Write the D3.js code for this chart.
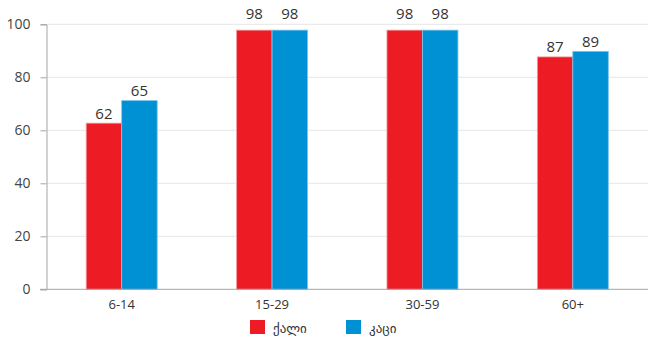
<!DOCTYPE html>
<html><head><meta charset="utf-8">
<script src="https://cdn.jsdelivr.net/npm/d3@7"></script>
<style>body{margin:0;background:#fff}svg{display:block}text{font-family:"Open Sans","DejaVu Sans",sans-serif}</style>
</head><body>
<svg id="c" width="651" height="337"></svg>
<script>
const categories = ["6-14", "15-29", "30-59", "60+"];
const seriesNames = ["ქალი", "კაცი"];
const femaleValues = [62.7, 97.8, 97.8, 87.7];
const maleValues = [71.2, 97.8, 97.8, 89.8];
const femaleLabels = ["62", "98", "98", "87"];
const maleLabels = ["65", "98", "98", "89"];
const yTicks = [0, 20, 40, 60, 80, 100];
const colors = ["#ED1C24", "#0091D5"];
const strokes = ["#f5a0a4", "#7cc4ea"];

const svg = d3.select("#c");
const margin = {left: 46.5, right: 3};
const W = 651;
const x = d3.scaleBand().domain(categories).range([margin.left, W - margin.right]).paddingInner(0).paddingOuter(0);
const y = d3.scaleLinear().domain([0, 100]).range([289.3, 24.3]);
const groupW = 71;
const xs = d3.scaleBand().domain([0, 1]).range([0, groupW]);

// grid
svg.append("g").selectAll("line").data(yTicks.filter(t => t > 0)).join("line")
  .attr("x1", margin.left).attr("x2", W - margin.right)
  .attr("y1", d => y(d)).attr("y2", d => y(d))
  .attr("stroke", "#e6e6e6").attr("stroke-width", 1);

// y axis
const yAxis = d3.axisLeft(y).tickValues(yTicks).tickSize(6).tickPadding(10);
const gy = svg.append("g").attr("transform", `translate(${margin.left},0)`).call(yAxis);
gy.select(".domain").attr("stroke", "#a6a6a6");
gy.selectAll(".tick line").attr("stroke", "#a6a6a6");
gy.selectAll("text").attr("font-size", 14).attr("fill", "#444")
  .attr("font-family", "'Open Sans',sans-serif");

// bars
const series = [femaleValues, maleValues];
const labels = [femaleLabels, maleLabels];
const topY = y(d3.max(yTicks));
function labelY(v) {
  const b = y(v) - 4.5;
  return (b - 12 < topY) ? topY - 5 : b;
}
series.forEach((vals, si) => {
  const g = svg.append("g");
  g.selectAll("rect").data(vals).join("rect")
    .attr("x", (d, i) => x(categories[i]) + x.bandwidth() / 2 - groupW / 2 + xs(si))
    .attr("y", d => y(d))
    .attr("width", xs.bandwidth())
    .attr("height", d => y(0) - y(d))
    .attr("fill", colors[si])
    .attr("stroke", strokes[si]).attr("stroke-width", 0.8);
  g.selectAll("text").data(vals).join("text")
    .attr("x", (d, i) => x(categories[i]) + x.bandwidth() / 2 - groupW / 2 + xs(si) + xs.bandwidth() / 2)
    .attr("y", d => labelY(d))
    .attr("text-anchor", "middle")
    .attr("font-size", 15).attr("fill", "#333")
    .text((d, i) => labels[si][i]);
});

// x axis
const xAxis = d3.axisBottom(x).tickSize(0).tickPadding(10);
const gx = svg.append("g").attr("transform", `translate(0,${y(0)})`).call(xAxis);
gx.select(".domain").remove();
gx.selectAll("text").attr("font-size", 13).attr("fill", "#333")
  .attr("font-family", "'Open Sans',sans-serif");
svg.append("line").attr("x1", 40).attr("x2", W - margin.right)
  .attr("y1", y(0)).attr("y2", y(0)).attr("stroke", "#a6a6a6");

// legend
const legendX = [250, 346];
const lg = svg.append("g");
seriesNames.forEach((n, i) => {
  lg.append("rect").attr("x", legendX[i]).attr("y", 320).attr("width", 15).attr("height", 14).attr("fill", colors[i]);
  lg.append("text").attr("x", legendX[i] + 23).attr("y", 333).attr("font-size", 13).attr("fill", "#333")
    .attr("font-family", "'DejaVu Sans',sans-serif").text(n);
});
</script>
</body></html>
